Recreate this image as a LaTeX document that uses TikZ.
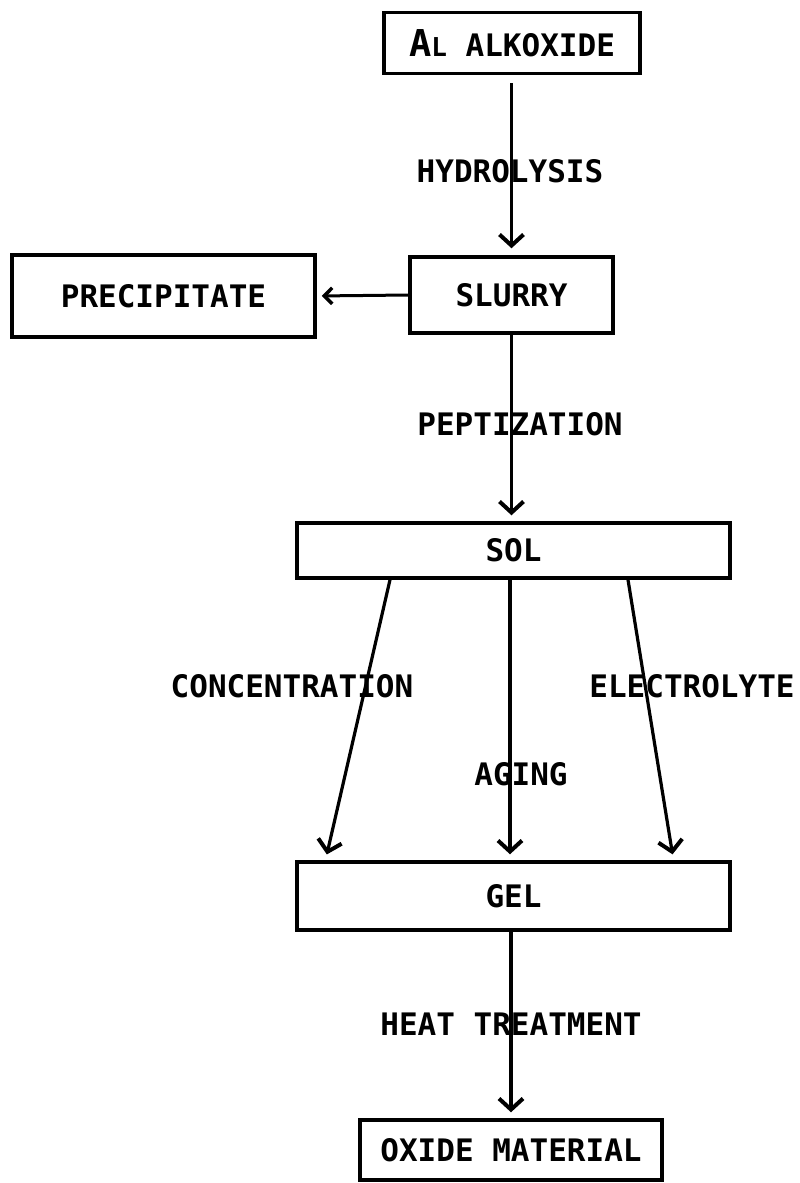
\documentclass[tikz,border=0pt]{standalone}
\usepackage{fontspec}
\setmonofont{DejaVu Sans Mono}
\usetikzlibrary{arrows.meta}
\newcommand\diaglbl{\ttfamily\bfseries\fontsize{31}{33}\selectfont}
\begin{document}
\begin{tikzpicture}[x=1pt,y=-1pt,
  box/.style={draw, line width=3.5pt, inner sep=0pt, font=\diaglbl},
  lbl/.style={font=\diaglbl, inner sep=0pt},
  arr/.style={line width=3.2pt, -{Straight Barb[length=11pt,width=24pt,line width=4pt]}},
  sarr/.style={line width=3pt, -{Straight Barb[length=8pt,width=16pt,line width=3.5pt]}}]
\useasboundingbox (0,0) rectangle (800,1183);
\node[box, minimum width=256pt, minimum height=61pt] (alk) at (512,43)
  {{\fontsize{37}{40}\selectfont A}{\fontsize{26}{28}\selectfont L} ALKOXIDE};
\node[box, minimum width=203pt, minimum height=76pt] (slurry) at (511.5,295) {SLURRY};
\node[box, minimum width=303pt, minimum height=82pt] (prec) at (163.5,296) {PRECIPITATE};
\node[box, minimum width=433pt, minimum height=55pt] (sol) at (513.5,550.5) {SOL};
\node[box, minimum width=433pt, minimum height=68pt] (gel) at (513.5,896) {GEL};
\node[box, minimum width=302pt, minimum height=60pt] (oxide) at (511,1150) {OXIDE MATERIAL};

\node[lbl] (l1) at (510,171) {HYDROLYSIS};
\node[lbl] (l2) at (520,424) {PEPTIZATION};
\node[lbl] (l3) at (292,686) {CONCENTRATION};
\node[lbl] (l4) at (692,686) {ELECTROLYTE};
\node[lbl] (l5) at (521,774) {AGING};
\node[lbl] (l6) at (511,1024) {HEAT TREATMENT};

\draw[arr, shorten <=8pt, shorten >=7pt] (alk.south -| slurry.north) -- (slurry.north);
\draw[sarr, shorten >=5pt] (slurry.west) -- (prec.east);
\draw[arr, shorten >=6pt] (slurry.south) -- (sol.north -| slurry.south);
\draw[arr, shorten >=6pt] ([xshift=-123.5pt]sol.south) -- ([xshift=-188pt]gel.north);
\draw[arr, shorten >=6pt] ([xshift=-3.5pt]sol.south) -- ([xshift=-3.5pt]gel.north);
\draw[arr, shorten >=6pt] ([xshift=114.5pt]sol.south) -- ([xshift=160pt]gel.north);
\draw[arr, shorten >=6pt] (gel.south -| oxide.north) -- (oxide.north);
\end{tikzpicture}
\end{document}
